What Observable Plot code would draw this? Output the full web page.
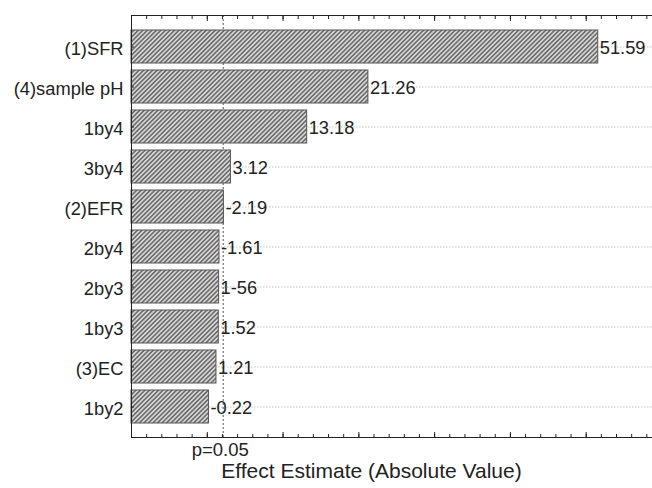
<!DOCTYPE html>
<html><head><meta charset="utf-8">
<script src="https://cdn.jsdelivr.net/npm/d3@7"></script>
<script src="https://cdn.jsdelivr.net/npm/@observablehq/plot@0.6"></script>
<style>body{margin:0;background:#fff}</style>
</head><body><div id="chart"></div>
<script>
const factors = ["(1)SFR","(4)sample pH","1by4","3by4","(2)EFR","2by4","2by3","1by3","(3)EC","1by2"];
const effects = [51.59,21.26,13.18,3.12,2.19,1.61,1.56,1.52,1.21,0.22];
const valueLabels = ["51.59","21.26","13.18","3.12","-2.19","-1.61","1-56","1.52","1.21","-0.22"];
const pCritical = 2.1;
const pLabel = "p=0.05";
const xTitle = "Effect Estimate (Absolute Value)";
const xDomain = [-10, 58.75];
const minorTicks = d3.range(-10, 59, 2);
const majorTicks = d3.range(-10, 59, 10);

const data = factors.map((f, i) => ({factor: f, effect: effects[i], label: valueLabels[i]}));
const font = "'Liberation Sans', Arial, Helvetica, sans-serif";
const ink = "#222";

const chart = Plot.plot({
  width: 652, height: 488,
  marginLeft: 131, marginRight: 0, marginTop: 15, marginBottom: 51,
  style: {fontFamily: font, fontSize: "18px", color: ink, background: "#fff"},
  x: {domain: xDomain, axis: null},
  y: {domain: factors, paddingInner: 0.18, paddingOuter: 0.32, axis: null},
  marks: [
    Plot.ruleY(factors, {y: d => d, stroke: "#c4c4c4", strokeDasharray: "1.5,1.5"}),
    Plot.ruleX([pCritical], {stroke: "#555", strokeDasharray: "2,2"}),
    Plot.barX(data, {y: "factor", x1: xDomain[0], x2: "effect", fill: "url(#hatch)", stroke: "#555", strokeWidth: 1}),
    Plot.text(data, {x: "effect", y: "factor", text: "label", textAnchor: "start", dx: 1.5, dy: 1.5, fontSize: 18.3, fill: ink}),
    Plot.axisY({tickSize: 0, tickPadding: 8, fontSize: 18.3, dy: 2, label: null, fill: ink}),
    Plot.axisY({tickSize: -3, text: null, label: null, stroke: ink}),
    Plot.axisX(minorTicks, {anchor: "bottom", tickSize: -3, text: null, label: null, stroke: ink}),
    Plot.axisX(majorTicks, {anchor: "bottom", tickSize: -5, text: null, label: null, stroke: ink}),
    Plot.axisX(minorTicks, {anchor: "top", tickSize: -3, text: null, label: null, stroke: ink}),
    Plot.axisX(majorTicks, {anchor: "top", tickSize: -5, text: null, label: null, stroke: ink}),
    Plot.frame({anchor: "left", stroke: ink}),
    Plot.frame({anchor: "top", stroke: ink}),
    Plot.frame({anchor: "bottom", stroke: ink}),
    Plot.text([pLabel], {x: pCritical, frameAnchor: "bottom", dy: 18, dx: -3, fontSize: 18.5, text: d => d, fill: ink}),
    Plot.text([xTitle], {frameAnchor: "bottom", dx: -20.5, dy: 40, fontSize: 21, text: d => d, fill: ink})
  ]
});

const svg = chart.tagName.toLowerCase() === "svg" ? chart : chart.querySelector("svg");
const defs = d3.select(svg).insert("defs", ":first-child");
const pat = defs.append("pattern")
  .attr("id", "hatch")
  .attr("patternUnits", "userSpaceOnUse")
  .attr("width", 3.2).attr("height", 3.2)
  .attr("patternTransform", "rotate(45)");
pat.append("rect").attr("width", 3.2).attr("height", 3.2).attr("fill", "#d6d6d6");
pat.append("line").attr("x1", 0.8).attr("y1", 0).attr("x2", 0.8).attr("y2", 3.2)
  .attr("stroke", "#555").attr("stroke-width", 1.3);

document.getElementById("chart").appendChild(chart);
</script>
</body></html>
